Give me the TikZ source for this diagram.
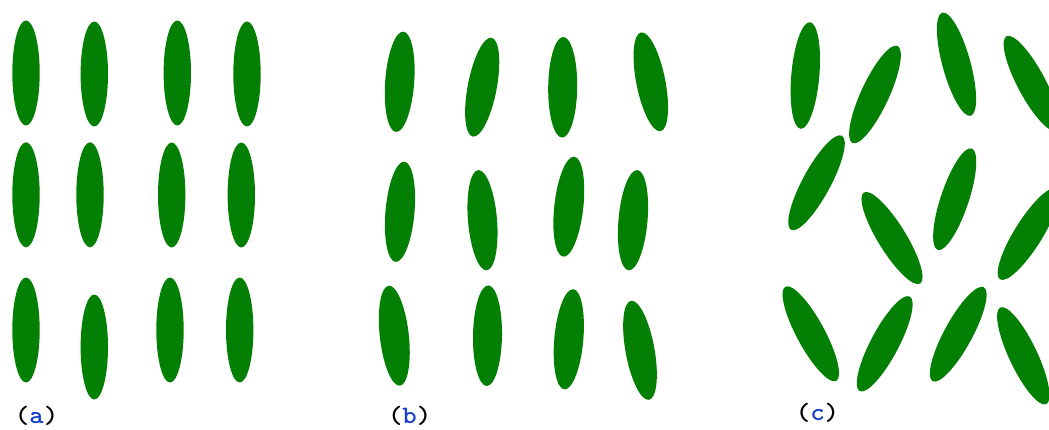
\documentclass[tikz,border=0pt]{standalone}
\usepackage{fontspec}
\definecolor{lcgreen}{RGB}{3,127,3}
\definecolor{labblue}{RGB}{20,60,205}
\tikzset{
  mol/.style={fill=lcgreen},
  panellabel/.style={font=\ttfamily\bfseries\fontsize{25}{25}\selectfont, anchor=base, inner sep=0pt, xscale=1.1}
}
% \mol{cx}{cy}{angle}{rx}{ry}  (image coordinates, y downward)
\newcommand\mol[5]{\fill[mol, rotate around={#3:(#1,{429-#2})}] (#1,{429-#2}) ellipse ({#4} and {#5});}
\begin{document}
\begin{tikzpicture}[x=1pt,y=1pt]
\useasboundingbox (0,0) rectangle (1049,429);
\clip (0,0) rectangle (1049,429);
% (a)
\mol{26}{73}{0}{13.7}{52.5}
\mol{94.3}{74}{0}{13.7}{52.5}
\mol{177.3}{73}{0}{13.7}{52.5}
\mol{247}{74}{0}{13.7}{52.5}
\mol{26}{194.8}{0}{13.7}{52.5}
\mol{90}{194.8}{0}{13.7}{52.5}
\mol{171.7}{195}{0}{13.7}{52.5}
\mol{241.3}{195}{0}{13.7}{52.5}
\mol{26}{330}{0}{13.7}{52.5}
\mol{94.3}{347}{0}{13.7}{52.5}
\mol{170}{330}{0}{13.7}{52.5}
\mol{239.7}{330}{0}{13.7}{52.5}
% (b)
\mol{399.7}{81.8}{-4.2}{14.5}{50.3}
\mol{482.2}{87.2}{-10.8}{14.5}{50.3}
\mol{562.7}{87.3}{-0.7}{14.5}{50.3}
\mol{650.8}{81.8}{11.2}{14.5}{50.3}
\mol{400}{211.8}{-5.0}{14.5}{50.3}
\mol{482.5}{220.2}{4.8}{14.5}{50.3}
\mol{568.8}{206.7}{-6.3}{14.5}{50.3}
\mol{633}{220.2}{-5.0}{14.5}{50.3}
\mol{394.3}{335.7}{6.4}{14.5}{50.3}
\mol{487.5}{335.7}{-0.9}{14.5}{50.3}
\mol{568.8}{339.3}{-5.1}{14.5}{50.3}
\mol{640}{350.3}{10.3}{14.5}{50.3}
% (c)
\mol{805.3}{75.5}{-5.0}{14}{53.5}
\mol{875}{94.5}{-24.9}{14}{53.5}
\mol{956.5}{64.2}{15.4}{14}{53.5}
\mol{1031.6}{83.5}{28}{14}{53.5}
\mol{816.5}{182.8}{-28.4}{14}{53.5}
\mol{892}{238}{31.7}{14}{53.5}
\mol{954.7}{199.2}{-18.5}{14}{53.5}
\mol{1028.4}{234}{-32}{14}{53.5}
\mol{810.8}{333.8}{28.4}{14}{53.5}
\mol{884.7}{343.8}{-27.9}{14}{53.5}
\mol{958.2}{334.2}{-28.6}{14}{53.5}
\mol{1023.3}{355.8}{25.4}{14}{53.5}
% labels
\node[panellabel] (la) at (36.6,6) {(\textcolor{labblue}{a})};
\node[panellabel] (lb) at (409.7,6) {(\textcolor{labblue}{b})};
\node[panellabel] (lc) at (817.5,9) {(\textcolor{labblue}{c})};
\end{tikzpicture}
\end{document}
